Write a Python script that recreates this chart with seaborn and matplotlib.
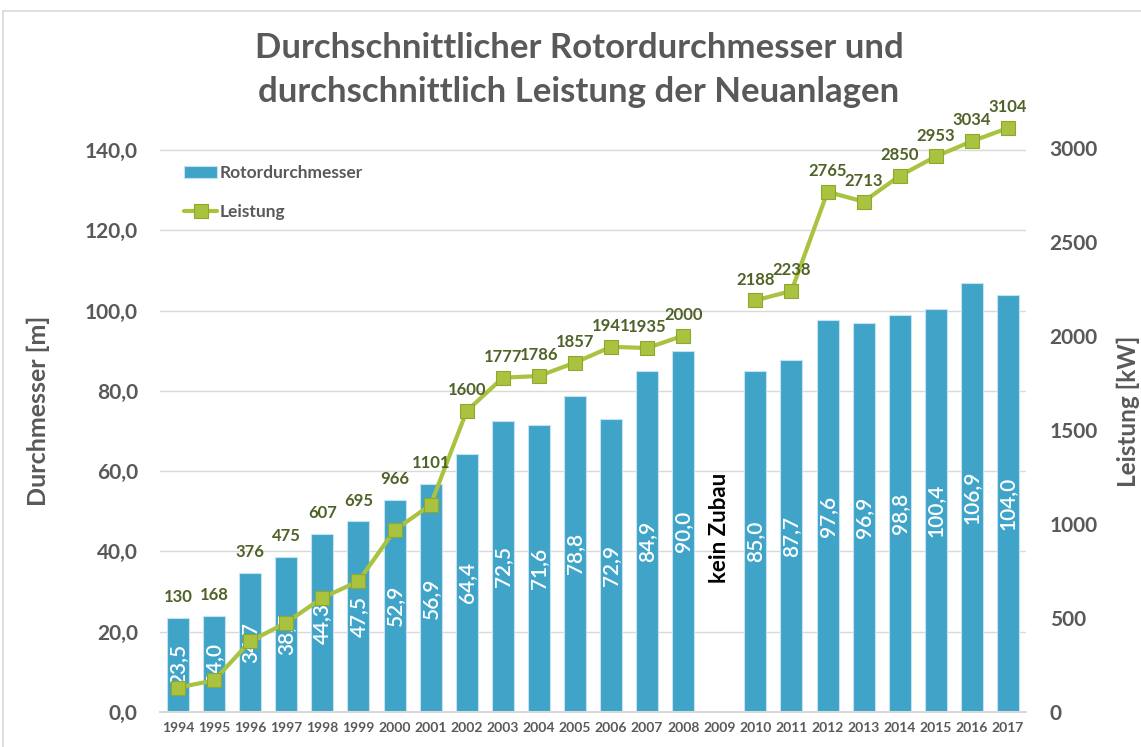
import numpy as np
import pandas as pd
import matplotlib
matplotlib.use("Agg")
import matplotlib.pyplot as plt
from matplotlib.lines import Line2D
import seaborn as sns

# Data
years = [str(y) for y in range(1994, 2018)]
rotor_diameter = [23.5, 24.0, 34.7, 38.7, 44.3, 47.5, 52.9, 56.9, 64.4, 72.5,
                  71.6, 78.8, 72.9, 84.9, 90.0, np.nan, 85.0, 87.7, 97.6, 96.9,
                  98.8, 100.4, 106.9, 104.0]
power_kw = [130, 168, 376, 475, 607, 695, 966, 1101, 1600, 1777, 1786, 1857,
            1941, 1935, 2000, np.nan, 2188, 2238, 2765, 2713, 2850, 2953, 3034,
            3104]
left_ticks = [0, 20, 40, 60, 80, 100, 120, 140]
right_ticks = [0, 500, 1000, 1500, 2000, 2500, 3000]

GREY = "#595959"
BLUE = "#40a4c8"
GREEN = "#a9c23f"
OLIVE = "#4f6228"
LEFT_MAX, RIGHT_MAX = 150, 3200

sns.set_style("white")
plt.rcParams["font.family"] = ["Lato", "DejaVu Sans"]

df = pd.DataFrame({"Jahr": years, "Rotordurchmesser": rotor_diameter,
                   "Leistung": power_kw})

fig = plt.figure(figsize=(11.41, 7.47), dpi=100)
W, H = 1141, 747
ax = fig.add_axes([160 / W, (H - 712) / H, 866 / W, 602 / H])

sns.barplot(data=df, x="Jahr", y="Rotordurchmesser", order=years, color=BLUE,
            saturation=1, width=0.61, edgecolor="#c4e3f0", linewidth=0.8,
            ax=ax)

bars = ax.containers[0]
labels = []
for p in bars:
    h = p.get_height()
    labels.append(f"{h:.1f}".replace(".", ",") if np.isfinite(h) and h > 0 else "")
ax.bar_label(bars, labels=labels, label_type="center", rotation=90,
             color="white", fontsize=15, fontweight="semibold")

ax.set_ylim(0, LEFT_MAX)
ax.set_xlim(-0.5, len(years) - 0.5)
ax.set_yticks(left_ticks)
ax.set_yticklabels([f"{v:.1f}".replace(".", ",") for v in left_ticks])
ax.yaxis.grid(True, color="#d9d9d9", linewidth=1)
ax.set_axisbelow(True)
for s in ["top", "left", "right"]:
    ax.spines[s].set_visible(False)
ax.spines["bottom"].set_color("#d9d9d9")
ax.spines["bottom"].set_linewidth(1.5)
ax.tick_params(axis="y", length=0, pad=16, labelsize=15, labelcolor=GREY)
ax.tick_params(axis="x", length=0, pad=7, labelsize=10, labelcolor=GREY)
for t in ax.get_xticklabels() + ax.get_yticklabels():
    t.set_fontweight("bold")
ax.set_xlabel("")
ax.set_ylabel("Durchmesser [m]", fontsize=18, fontweight="bold", color=GREY)
ax.yaxis.set_label_coords((50 - 160) / 866, 0.5)

# "kein Zubau" note for the empty year
ax.text(years.index("2009"), 45.8, "kein Zubau", rotation=90, ha="center",
        va="center", fontsize=16, fontweight="bold", color="black")

# Secondary axis: installed power
ax2 = ax.twinx()
xpos = np.arange(len(years))
ax2.plot(xpos, power_kw, color=GREEN, linewidth=3, marker="s", markersize=9.5,
         markerfacecolor=GREEN, markeredgecolor="#8ea82c", markeredgewidth=0.8,
         label="Leistung")
ax2.set_ylim(0, RIGHT_MAX)
ax2.set_yticks(right_ticks)
ax2.set_yticklabels([str(v) for v in right_ticks])
ax2.tick_params(axis="y", length=0, pad=17, labelsize=15, labelcolor=GREY)
for t in ax2.get_yticklabels():
    t.set_fontweight("bold")
for s in ax2.spines.values():
    s.set_visible(False)
ax2.grid(False)
ax2.set_ylabel("Leistung [kW]", fontsize=17.5, fontweight="bold", color=GREY)
ax2.yaxis.set_label_coords((1117 - 160) / 866, 0.5)

# power labels sit above whichever is higher: the marker or the bar
scale = RIGHT_MAX / LEFT_MAX
for i, (d, p) in enumerate(zip(rotor_diameter, power_kw)):
    if not np.isfinite(p):
        continue
    ref = max(p, d * scale)
    ax2.annotate(f"{p:.0f}", (i, ref), xytext=(0, 15), textcoords="offset points",
                 ha="center", va="center", fontsize=12, fontweight="bold",
                 color=OLIVE)

handles = [bars, ax2.get_lines()[0]]
leg = ax2.legend(handles, ["Rotordurchmesser", "Leistung"], loc="upper left",
                 bbox_to_anchor=(0.01, 0.935), frameon=False, fontsize=12.5,
                 handlelength=1.9, handletextpad=0.15, labelspacing=1.35)
for t in leg.get_texts():
    t.set_color(GREY)
    t.set_fontweight("bold")

fig.text(0.5075, 1 - 70 / H,
         "Durchschnittlicher Rotordurchmesser und\ndurchschnittlich Leistung der Neuanlagen",
         ha="center", va="center", fontsize=25, fontweight="bold", color=GREY,
         linespacing=1.5)

# chart area border (left and top edges visible in the crop)
fig.add_artist(Line2D([3 / W, 3 / W], [0, 1 - 11 / H], color="#d9d9d9", lw=1.2))
fig.add_artist(Line2D([3 / W, 1], [1 - 11 / H, 1 - 11 / H], color="#d9d9d9", lw=1.2))

fig.savefig("out.png", dpi=100)
